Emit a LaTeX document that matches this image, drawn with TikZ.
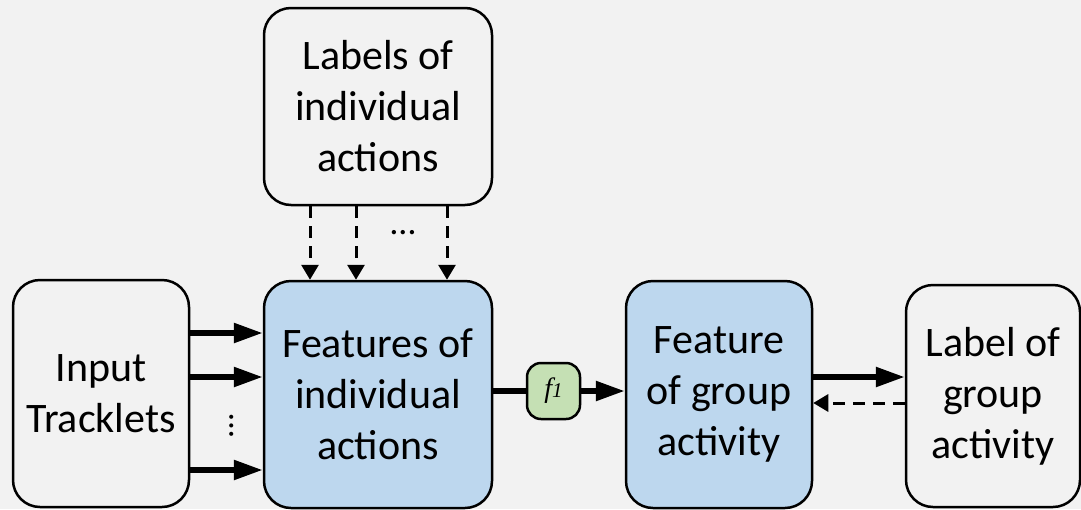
\documentclass[tikz,border=0pt]{standalone}
\usepackage{fontspec}
\setmainfont{Carlito}
\newfontfamily\fserif{Liberation Serif}
\usetikzlibrary{arrows.meta}
\definecolor{bgcol}{HTML}{F2F2F2}
\definecolor{featblue}{HTML}{BDD7EE}
\definecolor{fgreen}{HTML}{C5E0B4}
\begin{document}
\begin{tikzpicture}[x=1pt, y=-1pt,
    box/.style={draw, line width=2.5pt, rounded corners=27pt, fill=bgcol, align=center,
        inner sep=0pt, font=\fontsize{42}{51}\selectfont},
    featbox/.style={box, fill=featblue},
    solidarr/.style={line width=5.5pt, -{Triangle[length=29pt, width=19pt]}},
    dasharr/.style={line width=3pt, dash pattern=on 12pt off 8pt, -{Triangle[length=15pt, width=17pt]}}]
    \fill[bgcol] (0, 0) rectangle (1081, 509);
    \useasboundingbox (0, 0) rectangle (1081, 509);
    \node[box, minimum width=176pt, minimum height=227pt] (inp) at (101, 393.5) {Input\\Tracklets};
    \node[featbox, minimum width=228pt, minimum height=227pt] (feat) at (378, 394.5) {Features of\\individual\\actions};
    \node[box, minimum width=228pt, minimum height=197pt] (lab) at (378, 106.5) {Labels of\\individual\\actions};
    \node[featbox, minimum width=186pt, minimum height=227pt] (grp) at (719, 394.5) {Feature\\of group\\activity};
    \node[box, minimum width=174pt, minimum height=222pt] (out) at (993, 396) {Label of\\group\\activity};
    \node[draw, line width=2.5pt, rounded corners=14pt, fill=fgreen, minimum width=53pt,
        minimum height=56pt, inner sep=0pt] (f) at (553.5, 391) {\fserif\itshape\fontsize{28}{28}\selectfont f\fontsize{21}{21}\selectfont 1};
    % tracklets into features
    \foreach \y in {333, 377, 470}
        \draw[solidarr] (inp.east |- 0, \y) -- (feat.west |- 0, \y);
    \node[font=\fontsize{34}{34}\selectfont, rotate=90] (vdots) at (232, 426) {…};
    % supervision from individual labels
    \foreach \x in {310, 356, 447}
        \draw[dasharr] (lab.south -| \x, 0) -- (feat.north -| \x, 0);
    \node[font=\fontsize{36}{36}\selectfont] (hdots) at (403, 233) {…};
    % features to group feature
    \draw[line width=5.5pt] (f.west -| feat.east) -- (f.west);
    \draw[solidarr] (f.east) -- (f.east -| grp.west);
    % group feature and label
    \draw[solidarr] (grp.east |- 0, 377) -- (out.west |- 0, 377);
    \draw[dasharr] (out.west |- 0, 403) -- (grp.east |- 0, 403);
\end{tikzpicture}
\end{document}
